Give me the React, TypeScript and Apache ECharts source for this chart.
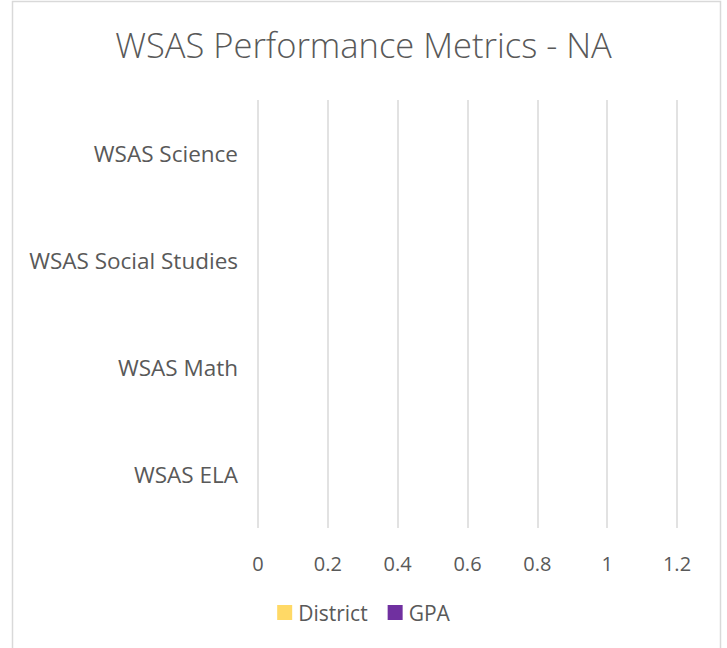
import React, { useEffect, useRef } from "react";
import * as echarts from "echarts";

const title = "WSAS Performance Metrics - NA";
const categories = ["WSAS ELA", "WSAS Math", "WSAS Social Studies", "WSAS Science"];
const seriesNames = ["District", "GPA"];
const districtValues: (number | null)[] = [null, null, null, null];
const gpaValues: (number | null)[] = [null, null, null, null];
const seriesColors = ["#FFD966", "#7030A0"];

export default function App() {
  const ref = useRef<HTMLDivElement>(null);
  useEffect(() => {
    if (!ref.current) return;
    const chart = echarts.init(ref.current, undefined, { renderer: "svg" });
    const font = "'Open Sans', sans-serif";
    chart.setOption({
      animation: false,
      backgroundColor: "#ffffff",
      title: {
        text: title,
        left: "center",
        top: 22,
        textStyle: { fontFamily: font, fontSize: 34.5, fontWeight: 300, color: "#595959" },
      },
      graphic: [
        {
          type: "rect",
          shape: { x: 12.5, y: 1.5, width: 708, height: 700 },
          style: { fill: "none", stroke: "#d9d9d9", lineWidth: 1.5 },
          silent: true,
        },
      ],
      legend: {
        bottom: 20,
        left: "center",
        itemWidth: 15,
        itemHeight: 15,
        itemGap: 20,
        icon: "rect",
        textStyle: { fontFamily: font, fontSize: 21, color: "#595959", padding: [0, 0, 0, 1] },
        data: seriesNames,
      },
      grid: { left: 258, right: 50, top: 100, bottom: 120, containLabel: false },
      xAxis: {
        type: "value",
        min: 0,
        max: 1.2,
        interval: 0.2,
        axisLine: { show: false },
        axisTick: { show: false },
        splitLine: { show: true, lineStyle: { color: "#d9d9d9", width: 1.5 } },
        axisLabel: { fontFamily: font, fontSize: 20, color: "#595959", margin: 25 },
      },
      yAxis: {
        type: "category",
        data: categories,
        axisLine: { show: false },
        axisTick: { show: false },
        axisLabel: { fontFamily: font, fontSize: 22.5, color: "#595959", margin: 20 },
      },
      series: [
        { name: seriesNames[0], type: "bar", data: districtValues, itemStyle: { color: seriesColors[0] } },
        { name: seriesNames[1], type: "bar", data: gpaValues, itemStyle: { color: seriesColors[1] } },
      ],
    });
    return () => chart.dispose();
  }, []);
  return (
    <div
      ref={ref}
      style={{ position: "fixed", left: 0, top: 0, width: 727, height: 648 }}
    />
  );
}
